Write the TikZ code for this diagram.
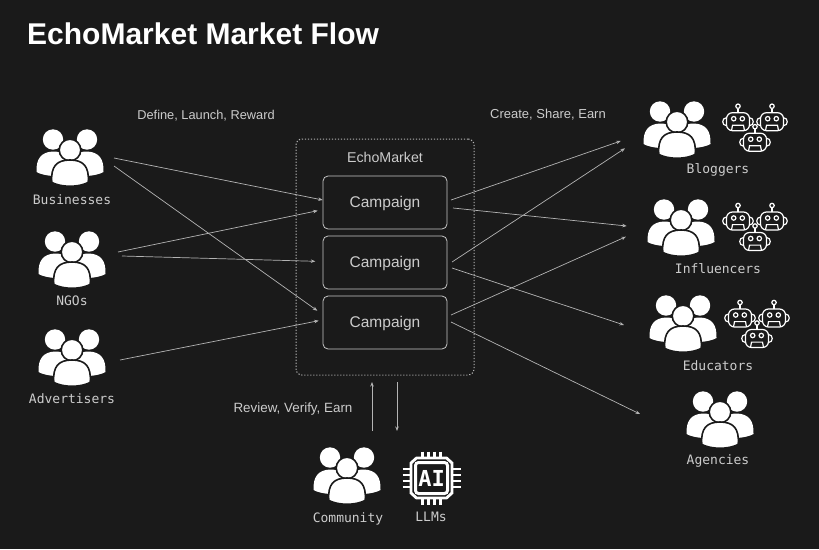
\documentclass[tikz,border=0pt]{standalone}
\usepackage{fontspec}
\setmainfont{Liberation Sans}
\newfontfamily\labelmono{DejaVu Sans Mono}
\usetikzlibrary{arrows.meta}
\definecolor{bgc}{HTML}{1A1A1A}
\definecolor{txtc}{HTML}{CCCCCC}
\definecolor{linec}{HTML}{B4B4B4}
\newcommand{\camptext}{\raisebox{-1pt}[11pt][3pt]{Campaign}}
\tikzset{
  x=1pt,y=-1pt,
  peopleicon/.pic={
    \fill[white] (-33.5,22) .. controls (-34,9) and (-29,2) .. (-17,1.5) .. controls (-8,1.5) and (0,6) .. (0,12) -- (0,28) -- (-17,26) .. controls (-24,25.5) and (-30,24) .. (-33.5,22) -- cycle;
    \fill[white] (33.5,22) .. controls (34,9) and (29,2) .. (17,1.5) .. controls (8,1.5) and (0,6) .. (0,12) -- (0,28) -- (17,26) .. controls (24,25.5) and (30,24) .. (33.5,22) -- cycle;
    \fill[white] (-17,-10.5) circle (10.2);
    \fill[white] (17,-10.5) circle (10.2);
    \filldraw[white,draw=bgc,line width=1.6] (0,0) circle (10.8);
    \filldraw[white,draw=bgc,line width=1.6] (-18.2,32.5) .. controls (-19.5,16) and (-13,10) .. (0,10) .. controls (13,10) and (19.5,16) .. (18.2,32.5) .. controls (8,37.5) and (-8,37.5) .. (-18.2,32.5) -- cycle;
  },
  roboticon/.pic={
    \begin{scope}[draw=white,line width=1.2]
    \draw[rounded corners=6] (-11.5,-9) rectangle (11.5,9);
    \draw (0,-9) -- (0,-13.2);
    \draw (0,-15.5) circle (2.2);
    \draw (-4.3,-3) circle (2.2);
    \draw (4.3,-3) circle (2.2);
    \draw (-6.5,9) -- (-5.5,3.6) -- (5.5,3.6) -- (6.5,9);
    \draw (-11.5,-4) .. controls (-16.5,-4) and (-16.5,4) .. (-11.5,4);
    \draw (11.5,-4) .. controls (16.5,-4) and (16.5,4) .. (11.5,4);
    \end{scope}
  },
  robotgroup/.pic={
    \pic (r1) at (-17,0) {roboticon};
    \pic (r2) at (17,0) {roboticon};
    \pic (r3) at (0,20.5) {roboticon};
  },
  monolabel/.style={text=txtc,font=\labelmono\fontsize{13}{15}\selectfont,inner sep=0},
  sanslabel/.style={text=txtc,font=\fontsize{13}{15}\selectfont,inner sep=0},
  campaignbox/.style={draw=linec!75,rounded corners=5,line width=0.8,minimum width=124,minimum height=53,inner sep=0,text=txtc,font=\fontsize{15.5}{18}\selectfont},
  container/.style={draw=linec,line width=1,dash pattern=on 1.2 off 1.8,rounded corners=6},
  flowline/.style={draw=linec,line width=0.7,-{Stealth[length=4.5,width=3.5]}},
}
\begin{document}
\begin{tikzpicture}
\useasboundingbox (0,0) rectangle (819,549);
\fill[bgc] (0,0) rectangle (819,549);

\node[anchor=west,inner sep=0,text=white,font=\bfseries\fontsize{30}{36}\selectfont] (title) at (27,34) {EchoMarket Market Flow};

\node[sanslabel,font=\fontsize{12.8}{15}\selectfont] (lblDefine) at (206,116) {Define, Launch, Reward};
\node[sanslabel] (lblCreate) at (548,115) {Create, Share, Earn};
\node[sanslabel,font=\fontsize{13.4}{15}\selectfont] (lblReview) at (293,409) {Review, Verify, Earn};

% container and campaigns
\node[container,minimum width=178,minimum height=236,inner sep=0] (market) at (385,257) {};
\node[sanslabel,font=\fontsize{14.2}{16}\selectfont] (marketlbl) at (385,157) {EchoMarket};
\node[campaignbox] (c1) at (385,202.5) {\camptext};
\node[campaignbox] (c2) at (385,262.5) {\camptext};
\node[campaignbox] (c3) at (385,322.5) {\camptext};

% people
\pic (businesses) at (70,150) {peopleicon};
\pic (ngos) at (72,252) {peopleicon};
\pic (advertisers) at (72,350) {peopleicon};
\pic (bloggers) at (677,122) {peopleicon};
\pic (influencers) at (681,220) {peopleicon};
\pic (educators) at (683,316) {peopleicon};
\pic (agencies) at (720,412) {peopleicon};
\pic (community) at (347,468) {peopleicon};

\pic (bots1) at (755,121.7) {robotgroup};
\pic (bots2) at (755,221) {robotgroup};
\pic (bots3) at (757,318) {robotgroup};

\node[monolabel] (lb1) at (72,199.5) {Businesses};
\node[monolabel] (lb2) at (72,300.5) {NGOs};
\node[monolabel] (lb3) at (72,398.5) {Advertisers};
\node[monolabel] (lb4) at (718,170) {Bloggers};
\node[monolabel] (lb5) at (718,269) {Influencers};
\node[monolabel] (lb6) at (718,366) {Educators};
\node[monolabel] (lb7) at (718,460.5) {Agencies};
\node[monolabel] (lb8) at (348,519) {Community};
\node[monolabel] (lb9) at (431,517) {LLMs};

% chip
\begin{scope}[shift={(431.5,478)}]
  \draw[white,line width=2.8] (-15,-20) -- (15,-20) -- (20.5,-15) -- (20.5,15) -- (15,20) -- (-15,20) -- (-20.5,15) -- (-20.5,-15) -- cycle;
  \draw[white,line width=3,rounded corners=3] (-16,-15.5) rectangle (16,15.5);
  \foreach \p in {-9,-3,3,9} {
    \draw[white,line width=2.6] (\p,-26.5) -- (\p,-20);
    \draw[white,line width=2.6] (\p,20) -- (\p,26.5);
    \draw[white,line width=2.6] (-29,\p) -- (-20.5,\p);
    \draw[white,line width=2.6] (20.5,\p) -- (29,\p);
  }
  \node[text=white,inner sep=0,font=\labelmono\bfseries\fontsize{22}{24}\selectfont] (chiptext) at (0,0) {AI};
\end{scope}

% connector ends
\coordinate (b1) at (114,158);
\coordinate (b2) at (114,166);
\coordinate (n1) at (118,252);
\coordinate (n2) at (122,256);
\coordinate (a1) at (120,360);
\coordinate (t1) at (322.7,200);
\coordinate (t2) at (317.3,310.7);
\coordinate (t3) at (317.7,210.7);
\coordinate (t4) at (315.3,261.3);
\coordinate (t5) at (318.7,320.7);
\draw[flowline] (b1) -- (t1);
\draw[flowline] (b2) -- (t2);
\draw[flowline] (n1) -- (t3);
\draw[flowline] (n2) -- (t4);
\draw[flowline] (a1) -- (t5);

\coordinate (s1) at (451,200);
\coordinate (s2) at (453,208);
\coordinate (s3) at (452,262);
\coordinate (s4) at (452,268);
\coordinate (s5) at (451,315);
\coordinate (s6) at (451,322);
\coordinate (e1) at (620.7,141);
\coordinate (e2) at (626.7,226);
\coordinate (e3) at (625,148.3);
\coordinate (e4) at (624,325);
\coordinate (e5) at (626,236.7);
\coordinate (e6) at (640,414);
\draw[flowline] (s1) -- (e1);
\draw[flowline] (s2) -- (e2);
\draw[flowline] (s3) -- (e3);
\draw[flowline] (s4) -- (e4);
\draw[flowline] (s5) -- (e5);
\draw[flowline] (s6) -- (e6);

\coordinate (u1) at (372,431);
\coordinate (u2) at (372,382);
\coordinate (d1) at (397,382);
\coordinate (d2) at (397,431);
\draw[flowline] (u1) -- (u2);
\draw[flowline] (d1) -- (d2);
\end{tikzpicture}
\end{document}
